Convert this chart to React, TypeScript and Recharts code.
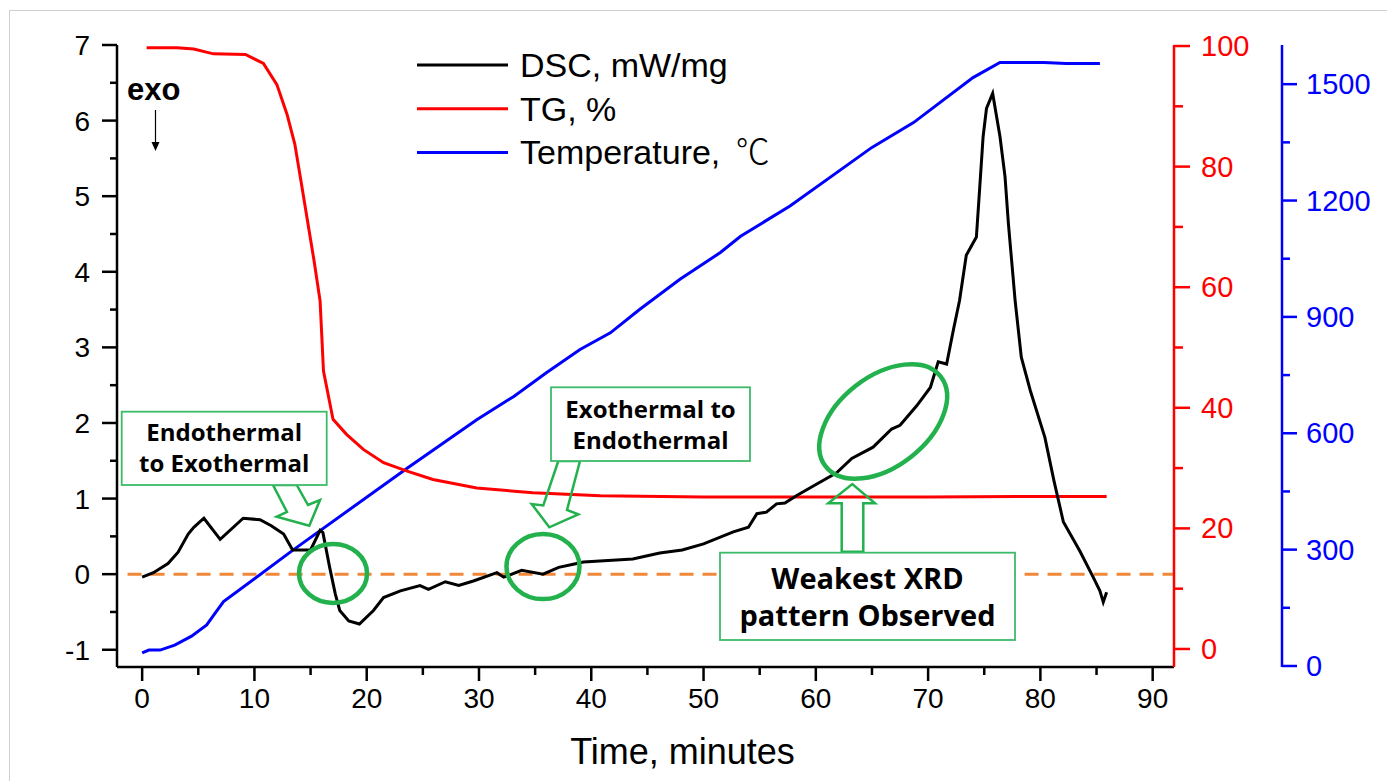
import React from 'react';
import {
    ComposedChart,
    Line,
    XAxis,
    YAxis,
    ReferenceLine,
    ReferenceDot,
    Legend,
    Label
} from 'recharts';

// --- Data ---
const dscTime = [
    0.0, 1.0, 2.3, 3.2, 4.1, 4.6, 5.5, 6.95, 9.0, 10.5, 11.5, 12.6, 13.4, 15.0, 15.85, 16.1, 16.7,
    17.2, 17.6, 18.4, 19.35, 20.6, 21.5, 23.0, 24.75, 25.5, 27.0, 28.2, 29.5, 31.6, 32.2, 33.8,
    35.7, 37.1, 38.4, 39.3, 41.5, 43.7, 46.1, 48.1, 50.0, 52.65, 54.0, 54.75, 55.6, 56.5, 57.25,
    58.3, 60.05, 61.85, 63.2, 65.1, 66.75, 67.5, 69.0, 70.2, 70.9, 71.65, 72.25, 72.8, 73.4, 74.3,
    74.6, 74.9, 75.2, 75.75, 76.4, 76.85, 77.15, 77.75, 78.3, 79.1, 80.4, 81.2, 82.05, 83.5, 84.7,
    85.3, 85.6, 85.9
];
const dscValue = [
    -0.04, 0.02, 0.14, 0.29, 0.53, 0.62, 0.74, 0.46, 0.74, 0.72, 0.64, 0.53, 0.32, 0.32, 0.58, 0.55, 0.09,
    -0.26, -0.48, -0.62, -0.66, -0.48, -0.31, -0.22, -0.15, -0.2, -0.1, -0.15, -0.09, 0.02, -0.04, 0.05,
    0.0, 0.09, 0.13, 0.16, 0.18, 0.2, 0.28, 0.32, 0.4, 0.56, 0.62, 0.8, 0.82, 0.93, 0.94,
    1.04, 1.19, 1.34, 1.53, 1.68, 1.92, 1.97, 2.23, 2.47, 2.81, 2.78, 3.23, 3.62, 4.22, 4.46,
    5.12, 5.79, 6.16, 6.36, 5.79, 5.26, 4.64, 3.62, 2.87, 2.43, 1.81, 1.24, 0.69, 0.31, -0.04,
    -0.22, -0.37, -0.24
];

const tgTime = [
    0.4, 3.1, 4.6, 6.35, 9.2, 10.8, 12.0, 12.9, 13.6, 14.2, 15.3, 15.85, 16.15, 17.0, 18.2, 19.7,
    21.5, 23.6, 25.9, 29.8, 34.8, 40.8, 50.0, 60.0, 70.0, 80.0, 85.9
];
const tgValue = [
    99.7, 99.7, 99.5, 98.7, 98.6, 97.1, 93.6, 88.7, 83.7, 77.0, 64.5, 57.7, 46.1, 38.1, 35.6, 33.1,
    30.9, 29.5, 28.1, 26.7, 25.9, 25.4, 25.2, 25.2, 25.2, 25.3, 25.3
];

const tempTime = [
    0.0, 0.6, 1.6, 2.9, 4.4, 5.75, 6.5, 7.25, 13.4, 23.6, 29.8, 33.1, 36.0, 39.0, 41.7, 44.3, 47.9,
    51.5, 53.3, 57.7, 65.0, 68.7, 74.0, 76.4, 80.3, 82.3, 85.3
];
const tempValue = [
    34, 41, 41, 54, 77, 106, 136, 166, 298, 510, 635, 695, 756, 816, 859, 919, 997,
    1066, 1108, 1186, 1337, 1401, 1517, 1556, 1556, 1553, 1553
];

const xTicks = [0, 5, 10, 15, 20, 25, 30, 35, 40, 45, 50, 55, 60, 65, 70, 75, 80, 85, 90];
const dscTicks = [-1, -0.5, 0, 0.5, 1, 1.5, 2, 2.5, 3, 3.5, 4, 4.5, 5, 5.5, 6, 6.5, 7];
const tgTicks = [0, 10, 20, 30, 40, 50, 60, 70, 80, 90, 100];
const tempTicks = [0, 150, 300, 450, 600, 750, 900, 1050, 1200, 1350, 1500];

const seriesNames = ['DSC, mW/mg', 'TG, %', 'Temperature, \u2103'];
const seriesColors = ['#000000', '#FF0000', '#0000FF'];

const zip = (xs: number[], ys: number[]) => xs.map((t, i) => ({ t, v: ys[i] }));
const dscData = zip(dscTime, dscValue);
const tgData = zip(tgTime, tgValue);
const tempData = zip(tempTime, tempValue);

const W = 1387;
const H = 781;
const FONT = "'Liberation Sans', Arial, sans-serif";
const CJK_FONT = "'Noto Sans CJK SC', 'DejaVu Sans', sans-serif";
const NOTE_FONT = "'Open Sans', 'Liberation Sans', sans-serif";
const GREEN = '#22B14C';
const BOX_GREEN = '#3DBB6A';

// axis ids: right axes are stacked in id order, so TG (inner) sorts first
const TG_AXIS = 'r1-tg';
const TEMP_AXIS = 'r2-temp';

// --- Axis ticks (major + minor, outward) ---
const XTick = ({ x, y, payload }: any) => {
    const major = payload.value % 10 === 0;
    return (
        <g>
            <line x1={x} x2={x} y1={y} y2={y + (major ? 14 : 8)} stroke="#000" strokeWidth={2.5} />
            {major && (
                <text x={x} y={y + 41} textAnchor="middle" fontSize={28} fontFamily={FONT} fill="#000">
                    {payload.value}
                </text>
            )}
        </g>
    );
};

const DscTick = ({ x, y, payload }: any) => {
    const major = Number.isInteger(payload.value);
    return (
        <g>
            <line x1={x - (major ? 15 : 7)} x2={x} y1={y} y2={y} stroke="#000" strokeWidth={2.5} />
            {major && (
                <text x={x - 27} y={y + 10} textAnchor="end" fontSize={28} fontFamily={FONT} fill="#000">
                    {payload.value}
                </text>
            )}
        </g>
    );
};

const TgTick = ({ x, y, payload }: any) => {
    const major = payload.value % 20 === 0;
    return (
        <g>
            <line x1={x} x2={x + (major ? 16 : 9)} y1={y} y2={y} stroke="#FF0000" strokeWidth={2.5} />
            {major && (
                <text x={x + 27} y={y + 10} textAnchor="start" fontSize={29} fontFamily={FONT} fill="#FF0000">
                    {payload.value}
                </text>
            )}
        </g>
    );
};

const TempTick = ({ x, y, payload }: any) => {
    const major = payload.value % 300 === 0;
    return (
        <g>
            <line x1={x} x2={x + (major ? 15 : 8)} y1={y} y2={y} stroke="#0000FF" strokeWidth={2.5} />
            {major && (
                <text x={x + 24} y={y + 10} textAnchor="start" fontSize={29} fontFamily={FONT} fill="#0000FF">
                    {payload.value}
                </text>
            )}
        </g>
    );
};

const TimeTitle = ({ viewBox }: any) => {
    const vb = viewBox || { x: 117, y: 667, width: 1057 };
    return (
        <text x={vb.x + vb.width / 2 + 37} y={vb.y + 97} textAnchor="middle" fontSize={36} fontFamily={FONT} fill="#000">
            Time, minutes
        </text>
    );
};

// --- Legend ---
const LegendBox = ({ payload }: any) => {
    const items = seriesNames.map((name, i) => {
        const hit = (payload || []).find((p: any) => p.value === name);
        return { name, color: hit?.color || seriesColors[i] };
    });
    return (
        <svg width={430} height={135}>
            {items.map((it, i) => {
                const cy = 25 + i * 43.7;
                // the degree sign is a full-width CJK glyph in the original
                const deg = it.name.endsWith('\u2103');
                const main = deg ? it.name.slice(0, -1) : it.name;
                return (
                    <g key={it.name}>
                        <line x1={7} x2={98} y1={cy} y2={cy} stroke={it.color} strokeWidth={3} />
                        <text x={110} y={cy + 12} fontSize={34} fontFamily={FONT} fill="#000" xmlSpace="preserve">
                            {main}
                            {deg && <tspan fontFamily={CJK_FONT} fontWeight={300} dx={6}>{'\u2103'}</tspan>}
                        </text>
                    </g>
                );
            })}
        </svg>
    );
};

// green rings, anchored to data coordinates
const rings = [
    { t: 17.0, v: 0.01, rx: 34, ry: 29.5, rot: 0 },
    { t: 35.7, v: 0.1, rx: 36.5, ry: 32.5, rot: 0 },
    { t: 66.0, v: 2.02, rx: 73, ry: 45, rot: -38 },
];

const Ring = (ring: any) => (props: any) => (
    <ellipse
        cx={props.cx}
        cy={props.cy}
        rx={ring.rx}
        ry={ring.ry}
        transform={`rotate(${ring.rot} ${props.cx} ${props.cy})`}
        fill="none"
        stroke={GREEN}
        strokeWidth={4.5}
    />
);

// --- Text boxes and hollow arrows ---
const Notes = () => (
    <svg width={W} height={H} style={{ position: 'absolute', left: 0, top: 0, pointerEvents: 'none' }}>
        <text x={127} y={100} fontSize={31} fontWeight={700} fontFamily={FONT} fill="#000">exo</text>
        <line x1={155.5} y1={110} x2={155.5} y2={143} stroke="#000" strokeWidth={1.2} />
        <path d="M151.5 142 L159.5 142 L155.5 151 Z" fill="#000" />

        <polygon
            points="273,485 296.7,485 308,505 320,500 309.3,525.7 276.7,516.7 287,512"
            fill="none" stroke={GREEN} strokeWidth={2.5}
        />
        <polygon
            points="558.3,461 580,461 567,510 578.3,514.3 549.3,527.3 531.7,504 543.3,505.5"
            fill="none" stroke={GREEN} strokeWidth={2.5}
        />
        <polygon
            points="841.7,551.7 841.7,503.3 828.3,503.3 852.3,484 875,503.3 863.3,503.3 863.3,551.7"
            fill="none" stroke={GREEN} strokeWidth={2.5}
        />

        <rect x={121.7} y={411.7} width={205} height={73.3} fill="#fff" stroke={BOX_GREEN} strokeWidth={1.8} />
        <text x={224.2} textAnchor="middle" fontSize={24} fontWeight={700} fontFamily={NOTE_FONT} fill="#000">
            <tspan x={224.2} y={441}>Endothermal</tspan>
            <tspan x={224.2} y={472}>to Exothermal</tspan>
        </text>

        <rect x={551} y={387.3} width={199} height={73.7} fill="#fff" stroke={BOX_GREEN} strokeWidth={1.8} />
        <text x={650.5} textAnchor="middle" fontSize={24} fontWeight={700} fontFamily={NOTE_FONT} fill="#000">
            <tspan x={650.5} y={417.5}>Exothermal to</tspan>
            <tspan x={650.5} y={449}>Endothermal</tspan>
        </text>

        <rect x={720} y={552.7} width={295} height={87.3} fill="#fff" stroke={BOX_GREEN} strokeWidth={1.8} />
        <text x={867.5} textAnchor="middle" fontSize={29} fontWeight={700} fontFamily={NOTE_FONT} fill="#000">
            <tspan x={867.5} y={589}>Weakest XRD</tspan>
            <tspan x={867.5} y={626}>pattern Observed</tspan>
        </text>
    </svg>
);

const App = () => {
    return (
        <div style={{ position: 'absolute', left: 0, top: 0, width: W, height: H, background: '#fff', overflow: 'hidden' }}>
            {/* thin grey frame of the original figure */}
            <div style={{ position: 'absolute', left: 9, top: 10, width: W, height: H, borderTop: '1.5px solid #cfcfcf', borderLeft: '1.5px solid #cfcfcf' }} />
            <div style={{ position: 'absolute', left: 0, top: 0 }}>
                <ComposedChart width={W} height={H} margin={{ top: 45, right: 0, bottom: 0, left: 0 }}>
                    <XAxis
                        dataKey="t"
                        type="number"
                        domain={[-2.24, 91.9]}
                        ticks={xTicks}
                        interval={0}
                        allowDataOverflow
                        height={114}
                        tickSize={0}
                        tickMargin={0}
                        tick={<XTick />}
                        axisLine={{ stroke: '#000', strokeWidth: 2.5 }}
                    >
                        <Label content={<TimeTitle />} />
                    </XAxis>
                    <YAxis
                        yAxisId="dsc"
                        orientation="left"
                        type="number"
                        width={117}
                        domain={[-1.228, 7]}
                        ticks={dscTicks}
                        interval={0}
                        allowDataOverflow
                        tickSize={0}
                        tickMargin={0}
                        tick={<DscTick />}
                        axisLine={{ stroke: '#000', strokeWidth: 2.5 }}
                    />
                    <YAxis
                        yAxisId={TG_AXIS}
                        orientation="right"
                        type="number"
                        width={108}
                        domain={[-2.99, 100.17]}
                        ticks={tgTicks}
                        interval={0}
                        allowDataOverflow
                        tickSize={0}
                        tickMargin={0}
                        tick={<TgTick />}
                        axisLine={{ stroke: '#FF0000', strokeWidth: 2.5 }}
                    />
                    <YAxis
                        yAxisId={TEMP_AXIS}
                        orientation="right"
                        type="number"
                        width={105}
                        domain={[-2.6, 1601]}
                        ticks={tempTicks}
                        interval={0}
                        allowDataOverflow
                        tickSize={0}
                        tickMargin={0}
                        tick={<TempTick />}
                        axisLine={{ stroke: '#0000FF', strokeWidth: 2.5 }}
                    />

                    <ReferenceLine
                        yAxisId="dsc"
                        segment={[{ x: -1.3, y: 0 }, { x: 91.8, y: 0 }]}
                        stroke="#F0883A"
                        strokeWidth={3}
                        strokeDasharray="14 9"
                    />

                    <Line
                        data={tempData}
                        dataKey="v"
                        name={seriesNames[2]}
                        yAxisId={TEMP_AXIS}
                        type="linear"
                        stroke={seriesColors[2]}
                        strokeWidth={3}
                        dot={false}
                        isAnimationActive={false}
                    />
                    <Line
                        data={tgData}
                        dataKey="v"
                        name={seriesNames[1]}
                        yAxisId={TG_AXIS}
                        type="linear"
                        stroke={seriesColors[1]}
                        strokeWidth={3}
                        dot={false}
                        isAnimationActive={false}
                    />
                    <Line
                        data={dscData}
                        dataKey="v"
                        name={seriesNames[0]}
                        yAxisId="dsc"
                        type="linear"
                        stroke={seriesColors[0]}
                        strokeWidth={3}
                        dot={false}
                        isAnimationActive={false}
                    />

                    {rings.map((r, i) => (
                        <ReferenceDot key={`ring-${i}`} x={r.t} y={r.v} yAxisId="dsc" r={1} shape={Ring(r)} />
                    ))}

                    <Legend
                        layout="vertical"
                        align="center"
                        verticalAlign="middle"
                        content={<LegendBox />}
                        wrapperStyle={{ left: 410, top: 40, width: 430, height: 135 }}
                    />
                </ComposedChart>
            </div>
            <Notes />
        </div>
    );
};

export default App;
